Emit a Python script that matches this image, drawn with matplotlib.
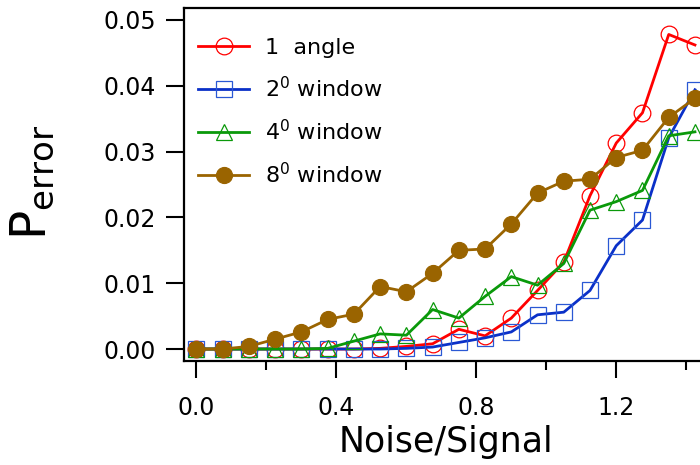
import matplotlib
matplotlib.use('Agg')
import matplotlib.pyplot as plt
from matplotlib.ticker import MultipleLocator

# noise / signal ratio (x axis)
noise_signal = [0.0, 0.075, 0.15, 0.225, 0.3, 0.375, 0.45, 0.525, 0.6, 0.675,
                0.75, 0.825, 0.9, 0.975, 1.05, 1.125, 1.2, 1.275, 1.35, 1.425]

# error probability for each method
p_one_angle = [0, 0, 0, 0, 0, 0, 0, 0.0001, 0.0004, 0.0008,
               0.003, 0.002, 0.0047, 0.0089, 0.0132, 0.0233, 0.0313, 0.0359, 0.0478, 0.0462]
p_window2 = [0, 0, 0, 0, 0, 0, 0, 0, 0.0001, 0.0003,
             0.001, 0.0017, 0.0026, 0.0052, 0.0056, 0.0089, 0.0157, 0.0196, 0.0321, 0.0394]
p_window4 = [0, 0, 0, 0, 0, 0.0001, 0.0012, 0.0023, 0.0021, 0.006,
             0.0047, 0.008, 0.011, 0.0097, 0.013, 0.0211, 0.0224, 0.0241, 0.0324, 0.033]
p_window8 = [0, 0, 0.0004, 0.0015, 0.0026, 0.0045, 0.0053, 0.0095, 0.0087, 0.0115,
             0.015, 0.0152, 0.019, 0.0237, 0.0255, 0.0258, 0.0291, 0.0302, 0.0352, 0.0381]

labels = ['1  angle', r'2$^0$ window', r'4$^0$ window', r'8$^0$ window']

plt.rcParams['font.family'] = ['DejaVu Sans']

W, H = 700, 465
fig = plt.figure(figsize=(7, 4.65), dpi=100)

# axes: left spine at x=184px, bottom at 361px, top at 8px, right runs off the figure
x0, x1 = -0.0357, 1.46
left = 184 / W
right_px = 196.5 + x1 * 349.8
ax = fig.add_axes([left, 1 - 361 / H, (right_px - 184) / W, (361 - 8) / H])

ax.plot(noise_signal, p_one_angle, color='#ff0000', lw=2.0, marker='o', ms=12,
        mfc='none', mec='#ff0000', mew=0.9, label=labels[0])
ax.plot(noise_signal, p_window2, color='#0a30c8', lw=2.0, marker='s', ms=11.5,
        mfc='none', mec='#2a58d4', mew=0.9, label=labels[1])
ax.plot(noise_signal, p_window4, color='#0a990a', lw=2.0, marker='^', ms=12,
        mfc='none', mec='#0a990a', mew=0.9, label=labels[2])
ax.plot(noise_signal, p_window8, color='#9a6400', lw=2.0, marker='o', ms=11.5,
        mfc='#9a6400', mec='#9a6400', mew=0.9, label=labels[3])

ax.set_xlim(x0, x1)
ax.set_ylim(-0.00182, 0.05182)

ax.xaxis.set_major_locator(MultipleLocator(0.4))
ax.xaxis.set_minor_locator(MultipleLocator(0.2))
ax.yaxis.set_major_locator(MultipleLocator(0.01))
ax.xaxis.set_major_formatter(plt.FuncFormatter(lambda v, p: f'{v:.1f}'))
ax.yaxis.set_major_formatter(plt.FuncFormatter(lambda v, p: f'{v:.2f}'))

ax.tick_params(axis='x', which='major', direction='out', length=12, width=1.5,
               labelsize=17, pad=13)
ax.tick_params(axis='x', which='minor', direction='out', length=6.5, width=1.5)
ax.tick_params(axis='y', which='major', direction='out', length=13, width=1.5,
               labelsize=17, pad=7)

for side in ['left', 'bottom', 'top']:
    ax.spines[side].set_linewidth(1.6)
ax.spines['right'].set_visible(False)

fig.text(446 / W, 1 - 442 / H, 'Noise/Signal', fontsize=25, ha='center', va='center')
fig.text(32 / W, 1 - 182 / H, r'$\mathregular{P_{error}}$', fontsize=35,
         rotation=90, ha='center', va='center')

ax.legend(loc='upper left', bbox_to_anchor=(198 / W, 1 - 38 / H),
          bbox_transform=fig.transFigure, frameon=False, fontsize=16,
          borderpad=0, borderaxespad=0, handlelength=2.3, handletextpad=0.7,
          labelspacing=0.8)

fig.savefig('out.png', dpi=100)
